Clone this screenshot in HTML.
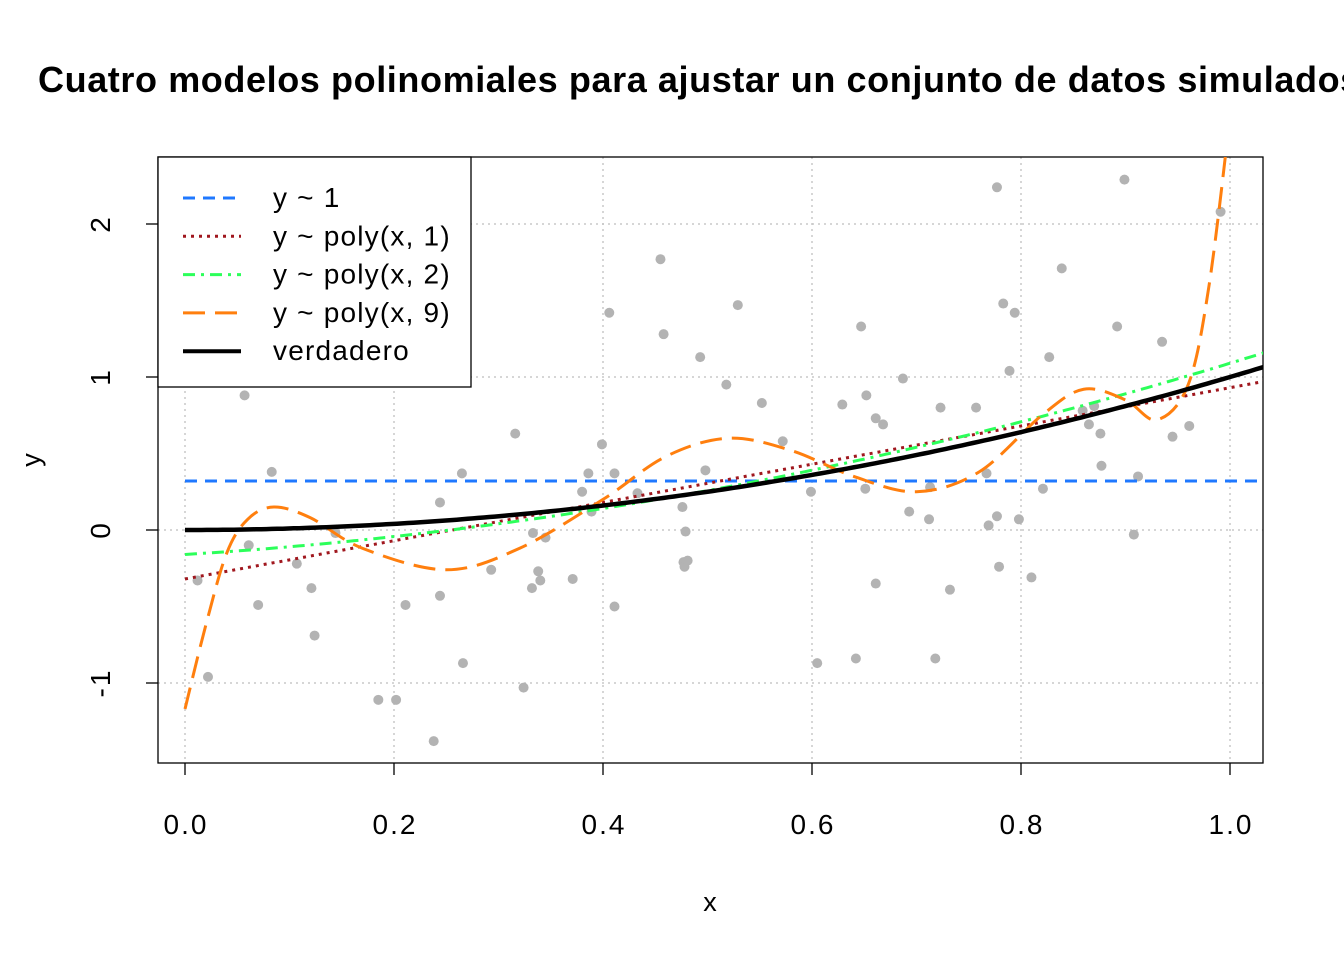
<!DOCTYPE html>
<html><head><meta charset="utf-8"><style>
body{margin:0;background:#fff;}
svg{display:block;font-family:"Liberation Sans",Arial,sans-serif;}
</style></head><body>
<svg id="chart" width="1344" height="960">
<text x="38" y="92" font-size="36" font-weight="bold" letter-spacing="0.6">Cuatro modelos polinomiales para ajustar un conjunto de datos simulados</text>
<g id="grid"></g><g id="axes"></g><g id="marks"></g>
<text x="710" y="911" font-size="27" text-anchor="middle">x</text>
<text transform="translate(40,460) rotate(-90)" font-size="27" text-anchor="middle">y</text>
</svg>
<script>
const xTicks=[0,0.2,0.4,0.6,0.8,1.0];
const xTickLabels=["0.0","0.2","0.4","0.6","0.8","1.0"];
const yTicks=[-1,0,1,2];
const yTickLabels=["-1","0","1","2"];
const ptX=[0.012,0.022,0.057,0.061,0.070,0.083,0.107,0.121,0.124,0.144,0.185,0.202,0.211,0.238,0.244,0.244,0.265,0.266,0.293,0.316,0.324,0.332,0.333,0.338,0.340,0.345,0.371,0.380,0.386,0.389,0.399,0.406,0.411,0.411,0.433,0.455,0.458,0.476,0.477,0.478,0.479,0.481,0.493,0.498,0.518,0.529,0.552,0.572,0.599,0.605,0.629,0.642,0.647,0.651,0.652,0.661,0.661,0.668,0.687,0.693,0.712,0.713,0.718,0.723,0.732,0.757,0.767,0.769,0.777,0.777,0.779,0.783,0.789,0.794,0.798,0.810,0.821,0.827,0.839,0.859,0.865,0.870,0.876,0.877,0.892,0.899,0.908,0.912,0.935,0.945,0.961,0.991];
const ptY=[-0.33,-0.96,0.88,-0.10,-0.49,0.38,-0.22,-0.38,-0.69,-0.02,-1.11,-1.11,-0.49,-1.38,0.18,-0.43,0.37,-0.87,-0.26,0.63,-1.03,-0.38,-0.02,-0.27,-0.33,-0.05,-0.32,0.25,0.37,0.12,0.56,1.42,0.37,-0.50,0.24,1.77,1.28,0.15,-0.21,-0.24,-0.01,-0.20,1.13,0.39,0.95,1.47,0.83,0.58,0.25,-0.87,0.82,-0.84,1.33,0.27,0.88,0.73,-0.35,0.69,0.99,0.12,0.07,0.28,-0.84,0.80,-0.39,0.80,0.37,0.03,2.24,0.09,-0.24,1.48,1.04,1.42,0.07,-0.31,0.27,1.13,1.71,0.78,0.69,0.81,0.63,0.42,1.33,2.29,-0.03,0.35,1.23,0.61,0.68,2.08];
const meanY=0.32;
const linCoef=[-0.32,1.25];
const quadCoef=[-0.16,0.42,0.83];
const trueCoef=[0,0,1];
const p9X=[0,0.02,0.04,0.06,0.085,0.12,0.17,0.25,0.32,0.4,0.46,0.52,0.58,0.64,0.7,0.76,0.82,0.86,0.9,0.93,0.96,0.98,1.0];
const p9Y=[-1.17,-0.62,-0.15,0.07,0.15,0.08,-0.12,-0.26,-0.12,0.2,0.48,0.6,0.52,0.35,0.25,0.38,0.75,0.92,0.85,0.72,0.95,1.6,2.7];
const L=158,R=1263,T=157,B=763;
const sx=v=>185+v*1045, sy=v=>530-v*153;
const NS="http://www.w3.org/2000/svg";
function mk(tag,attrs,parent){const e=document.createElementNS(NS,tag);for(const k in attrs)e.setAttribute(k,attrs[k]);parent.appendChild(e);return e;}
const svg=document.getElementById('chart');
const defs=mk('defs',{},svg);
const cp=mk('clipPath',{id:'clip'},defs);mk('rect',{x:L,y:T,width:R-L,height:B-T},cp);
const grid=document.getElementById('grid'),axes=document.getElementById('axes'),marks=document.getElementById('marks');
marks.setAttribute('clip-path','url(#clip)');
xTicks.forEach((v,i)=>{
 let g=mk('line',{x1:sx(v),x2:sx(v),y1:T,y2:B,stroke:'#c8c8c8','stroke-width':1.5,'stroke-dasharray':'2 4'},grid);
 
 let t=mk('line',{x1:sx(v),x2:sx(v),y1:B,y2:B+12,stroke:'#000','stroke-width':1.3},axes);
 
 let l=mk('text',{x:sx(v)+1,y:834,'font-size':28,'letter-spacing':2,'text-anchor':'middle'},axes);l.textContent=xTickLabels[i];
 
});
yTicks.forEach((v,i)=>{
 let g=mk('line',{x1:L,x2:R,y1:sy(v),y2:sy(v),stroke:'#c8c8c8','stroke-width':1.5,'stroke-dasharray':'2 4'},grid);
 
 let t=mk('line',{x1:L-12,x2:L,y1:sy(v),y2:sy(v),stroke:'#000','stroke-width':1.3},axes);
 
 let l=mk('text',{transform:`translate(110,${sy(v)}) rotate(-90)`,'font-size':28,'letter-spacing':2,'text-anchor':'middle'},axes);l.textContent=yTickLabels[i];
 
});
let box=mk('rect',{x:L,y:T,width:R-L,height:B-T,fill:'none',stroke:'#000','stroke-width':1.3},axes);

ptX.forEach((v,i)=>{
 let c=mk('circle',{cx:sx(v),cy:sy(ptY[i]),r:5,fill:'#b3b3b3'},marks);
 
});
function polyPath(coef){let d='';for(let k=0;k<=200;k++){const x=k*1.04/200;let y=0;coef.forEach((c,j)=>y+=c*Math.pow(x,j));d+=(k?'L':'M')+sx(x).toFixed(1)+','+sy(y).toFixed(1);}return d;}
function smooth(xs,ys){let d='M'+sx(xs[0])+','+sy(ys[0]);for(let i=0;i<xs.length-1;i++){const p0=i?i-1:i,p3=i+2<xs.length?i+2:i+1;const x1=sx(xs[i])+(sx(xs[i+1])-sx(xs[p0]))/6,y1=sy(ys[i])+(sy(ys[i+1])-sy(ys[p0]))/6,x2=sx(xs[i+1])-(sx(xs[p3])-sx(xs[i]))/6,y2=sy(ys[i+1])-(sy(ys[p3])-sy(ys[i]))/6;d+=`C${x1},${y1} ${x2},${y2} ${sx(xs[i+1])},${sy(ys[i+1])}`;}return d;}
let m=mk('line',{x1:sx(0),x2:R,y1:sy(meanY),y2:sy(meanY),stroke:'#1f78ff','stroke-width':3,'stroke-dasharray':'12 8'},marks);

let a=mk('path',{d:polyPath(linCoef),fill:'none',stroke:'#a0171e','stroke-width':3,'stroke-dasharray':'3 5'},marks);

let b=mk('path',{d:polyPath(quadCoef),fill:'none',stroke:'#2cff5a','stroke-width':3,'stroke-dasharray':'12 6 3 6'},marks);

let c9=mk('path',{d:smooth(p9X,p9Y),fill:'none',stroke:'#ff7f0e','stroke-width':3,'stroke-dasharray':'22 10'},marks);

let tr=mk('path',{d:polyPath(trueCoef),fill:'none',stroke:'#000','stroke-width':4.5},marks);

const lg=mk('g',{},svg);
mk('rect',{x:L,y:T,width:313,height:230,fill:'#fff',stroke:'#000','stroke-width':1.3},lg);
const legLabels=["y ~ 1","y ~ poly(x, 1)","y ~ poly(x, 2)","y ~ poly(x, 9)","verdadero"];
const legCols=['#1f78ff','#a0171e','#2cff5a','#ff7f0e','#000'];
const legDash=['12 8','3 5','12 6 3 6','22 10',''];
legLabels.forEach((s,i)=>{
 const y=198+i*38.3;
 const e=mk('g',{},lg);
 mk('line',{x1:183,x2:241,y1:y,y2:y,stroke:legCols[i],'stroke-width':i==4?4:3,'stroke-dasharray':legDash[i]},e);
 const t=mk('text',{x:273,y:y+9,'font-size':28,'letter-spacing':1.2},e);t.textContent=s;
});
</script>
</body></html>
